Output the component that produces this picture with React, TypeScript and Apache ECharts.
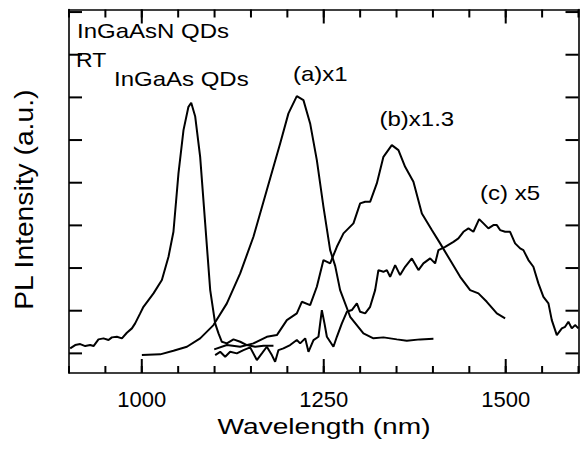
import React, { useEffect, useRef } from "react";
import * as echarts from "echarts";

// Wavelength (nm) and PL intensity (a.u., one unit per y tick)
const inGaAsWl = [901.6, 908.5, 915.4, 922.3, 929.1, 933.7, 940.5, 947.4, 954.3, 958.9, 965.8, 972.7, 979.5, 986.4, 990.9, 997.8, 1002.3, 1016.1, 1027.6, 1036.7, 1043.5, 1050.4, 1057.3, 1064.1, 1067.9, 1073.4, 1080.2, 1087.1, 1094, 1100.8, 1105.4, 1110, 1116.9, 1126, 1135.2, 1144.4, 1155.8, 1167.2, 1180.9];
const inGaAsI = [0.117, 0.195, 0.218, 0.171, 0.195, 0.171, 0.328, 0.352, 0.312, 0.375, 0.389, 0.352, 0.483, 0.586, 0.703, 0.937, 1.092, 1.406, 1.718, 2.264, 2.85, 4.218, 5.233, 5.779, 5.873, 5.55, 4.607, 3.047, 1.483, 0.703, 0.469, 0.272, 0.234, 0.328, 0.272, 0.195, 0.155, 0.178, 0.178];

const aWl = [1000.1, 1025.3, 1043.5, 1062, 1080.2, 1098.5, 1116.9, 1135.2, 1153.4, 1171.8, 1190.1, 1201.5, 1213, 1222.1, 1231.3, 1240.5, 1249.6, 1258.8, 1265.7, 1272.5, 1286.3, 1304.5, 1318.3, 1332, 1350.4, 1364.1, 1382.4, 1400.7];
const aI = [-0.04, -0.023, 0.061, 0.155, 0.352, 0.663, 1.172, 1.875, 2.733, 3.827, 4.921, 5.625, 6.03, 5.936, 5.39, 4.53, 3.436, 2.42, 2.05, 1.483, 0.858, 0.469, 0.352, 0.375, 0.328, 0.295, 0.328, 0.342];

const bWl = [1099.5, 1116.9, 1135.2, 1153.4, 1171.8, 1185.6, 1199.3, 1213, 1219.9, 1231.3, 1240.5, 1249.6, 1258.8, 1268, 1277.1, 1290.8, 1300, 1306.9, 1313.7, 1322.9, 1332, 1343.5, 1352.6, 1361.8, 1373.2, 1384.8, 1398.5, 1409.9, 1423.6, 1437.4, 1451.1, 1462.5, 1474, 1487.8, 1499.2];
const bI = [0.094, 0.195, 0.155, 0.234, 0.389, 0.429, 0.78, 0.937, 1.209, 1.132, 1.561, 2.187, 2.109, 2.498, 2.812, 3.047, 3.515, 3.553, 3.553, 3.984, 4.607, 4.882, 4.765, 4.373, 4.022, 3.281, 2.89, 2.578, 2.187, 1.795, 1.483, 1.406, 1.209, 0.937, 0.82];

const cWl = [1100.8, 1107.7, 1114.6, 1121.4, 1130.6, 1139.7, 1148.9, 1158.1, 1165, 1171.8, 1178.7, 1183.2, 1187.8, 1194.6, 1203.8, 1213, 1217.6, 1224.5, 1229, 1235.9, 1242.7, 1247.4, 1251, 1254.3, 1258.8, 1263.3, 1268, 1274.9, 1281.7, 1288.6, 1295.5, 1300, 1306.9, 1313.7, 1320.6, 1325.1, 1332, 1336.7, 1341.2, 1348.1, 1354.9, 1361.8, 1371, 1380.1, 1386.9, 1396.2, 1403, 1407.6, 1416.8, 1428.2, 1435, 1441.9, 1448.8, 1455.6, 1463.5, 1469.4, 1476.2, 1483.1, 1487.8, 1492.3, 1499.2, 1506, 1512.9, 1519.8, 1524.3, 1531.2, 1538, 1544.9, 1551.8, 1558.7, 1563.3, 1570.2, 1577.1, 1581.6, 1586.1, 1590.8, 1595.3, 1599.9];
const cI = [-0.04, 0.037, -0.08, 0.037, 0.0, 0.077, 0.141, -0.157, 0.0, 0.155, -0.04, -0.197, 0.077, 0.117, 0.195, 0.312, 0.234, 0.352, 0.037, 0.312, 0.389, 1.015, 0.703, 0.389, 0.272, 0.155, 0.389, 0.703, 0.975, 1.015, 1.172, 0.975, 0.937, 1.092, 1.483, 1.952, 1.912, 1.952, 1.795, 2.069, 1.835, 2.029, 2.226, 1.952, 2.109, 2.226, 2.109, 2.421, 2.498, 2.615, 2.695, 2.85, 2.929, 2.85, 3.147, 3.047, 2.929, 3.007, 3.007, 2.89, 2.85, 2.85, 2.578, 2.461, 2.421, 2.187, 2.03, 1.64, 1.326, 1.172, 0.78, 0.429, 0.586, 0.623, 0.741, 0.586, 0.663, 0.586];

// Axis ranges and tick values
const xMin = 900;
const xMax = 1600;
const yMin = -0.46;
const yMax = 8.06;
const majorXTicks = [1000, 1250, 1500];
const minorXTicks = [900, 950, 1000, 1050, 1100, 1150, 1200, 1250, 1300, 1350, 1400, 1450, 1500, 1550, 1600];
const yTicks = [0, 1, 2, 3, 4, 5, 6, 7, 8];

const FONT = '"Liberation Sans", Arial, Helvetica, sans-serif';

const zip = (xs: number[], ys: number[]) => xs.map((x, i) => [x, ys[i]]);

export default function App() {
  const ref = useRef<HTMLDivElement>(null);
  useEffect(() => {
    if (!ref.current) return;
    const chart = echarts.init(ref.current, undefined, { renderer: "svg" });
    const black = "#000";
    const lw = 1.6;
    const xtw = 2; // vertical tick thickness
    const ytw = 2; // horizontal tick thickness

    const series: any[] = [
      { name: "InGaAs", data: zip(inGaAsWl, inGaAsI) },
      { name: "a", data: zip(aWl, aI) },
      { name: "b", data: zip(bWl, bI) },
      { name: "c", data: zip(cWl, cI) },
    ].map((s) => ({
      type: "line",
      name: s.name,
      data: s.data,
      xAxisIndex: 0,
      yAxisIndex: 0,
      showSymbol: false,
      symbol: "none",
      lineStyle: { color: black, width: 2 },
      z: 3,
    }));

    // y-axis tick marks (left and right, pointing inward)
    series.push({
      type: "custom",
      name: "yTicks",
      xAxisIndex: 0,
      yAxisIndex: 0,
      silent: true,
      clip: false,
      z: 4,
      data: yTicks.map((v) => [1250, v]),
      renderItem: (_p: any, api: any) => {
        const l = api.coord([xMin, api.value(1)]);
        const r = api.coord([xMax, api.value(1)]);
        return {
          type: "group",
          children: [
            { type: "rect", shape: { x: l[0], y: l[1] - ytw / 2, width: 13, height: ytw }, style: { fill: black } },
            { type: "rect", shape: { x: r[0] - 13, y: r[1] - ytw / 2, width: 13, height: ytw }, style: { fill: black } },
          ],
        };
      },
    });

    const txt = (text: string, x: number, y: number, size: number, sx: number, align = "left", rot = 0) => ({
      type: "text",
      x,
      y,
      rotation: rot,
      scaleX: sx,
      z: 10,
      style: {
        text,
        fontSize: size,
        fontFamily: FONT,
        fill: black,
        align,
        verticalAlign: "middle",
      },
    });
    const texts = [
      txt("InGaAsN QDs", 77, 31.7, 20, 1.2),
      txt("RT", 76, 60, 20, 1.15),
      txt("InGaAs QDs", 114, 79.5, 20, 1.2),
      txt("(a)x1", 293, 74.5, 20, 1.2),
      txt("(b)x1.3", 379.5, 119.7, 20, 1.2),
      txt("(c) x5", 480, 193, 20, 1.2),
      txt("Wavelength (nm)", 324, 426.3, 22.5, 1.25, "center"),
      txt("PL Intensity (a.u.)", 24.5, 199.7, 25, 1.13, "center", Math.PI / 2),
    ];

    chart.setOption({
      animation: false,
      grid: { left: 69, right: 4.5, top: 9.5, bottom: 79 },
      xAxis: [
        {
          type: "value",
          position: "bottom",
          min: xMin,
          max: xMax,
          splitLine: { show: false },
          axisLine: { show: true, onZero: false, lineStyle: { color: black, width: lw } },
          axisTick: { show: false },
          axisLabel: {
            show: true,
            customValues: majorXTicks,
            fontSize: 22,
            fontFamily: FONT,
            color: black,
            margin: 15,
            formatter: (v: number) => String(v),
          },
        },
        {
          type: "value",
          position: "top",
          min: xMin,
          max: xMax,
          splitLine: { show: false },
          axisLine: { show: true, onZero: false, lineStyle: { color: black, width: lw } },
          axisTick: { show: false },
          axisLabel: { show: false },
        },
      ],
      yAxis: [
        {
          type: "value",
          position: "left",
          min: yMin,
          max: yMax,
          splitLine: { show: false },
          axisLine: { show: true, onZero: false, lineStyle: { color: black, width: lw } },
          axisTick: { show: false },
          axisLabel: { show: false },
        },
        {
          type: "value",
          position: "right",
          min: yMin,
          max: yMax,
          splitLine: { show: false },
          axisLine: { show: true, onZero: false, lineStyle: { color: black, width: lw } },
          axisTick: { show: false },
          axisLabel: { show: false },
        },
      ],
      series,
    });

    // x-axis tick marks, positioned through the axis scale (convertToPixel)
    const finder: any = { xAxisIndex: 0, yAxisIndex: 0 };
    const xTickRects: any[] = [];
    const addTicks = (ticks: number[], lenBottom: number, lenTop: number) => {
      ticks.forEach((v) => {
        const b = chart.convertToPixel(finder, [v, yMin]) as number[];
        const t = chart.convertToPixel(finder, [v, yMax]) as number[];
        xTickRects.push({
          type: "rect",
          z: 11,
          silent: true,
          shape: { x: b[0] - xtw / 2, y: b[1] - lenBottom, width: xtw, height: lenBottom },
          style: { fill: black },
        });
        xTickRects.push({
          type: "rect",
          z: 11,
          silent: true,
          shape: { x: t[0] - xtw / 2, y: t[1], width: xtw, height: lenTop },
          style: { fill: black },
        });
      });
    };
    addTicks(minorXTicks, 7, 8);
    addTicks(majorXTicks, 14, 14);

    chart.setOption({ graphic: [...texts, ...xTickRects] });
    return () => chart.dispose();
  }, []);
  return (
    <div
      ref={ref}
      style={{ position: "fixed", left: 0, top: 0, width: 583, height: 452, background: "#fff" }}
    />
  );
}
